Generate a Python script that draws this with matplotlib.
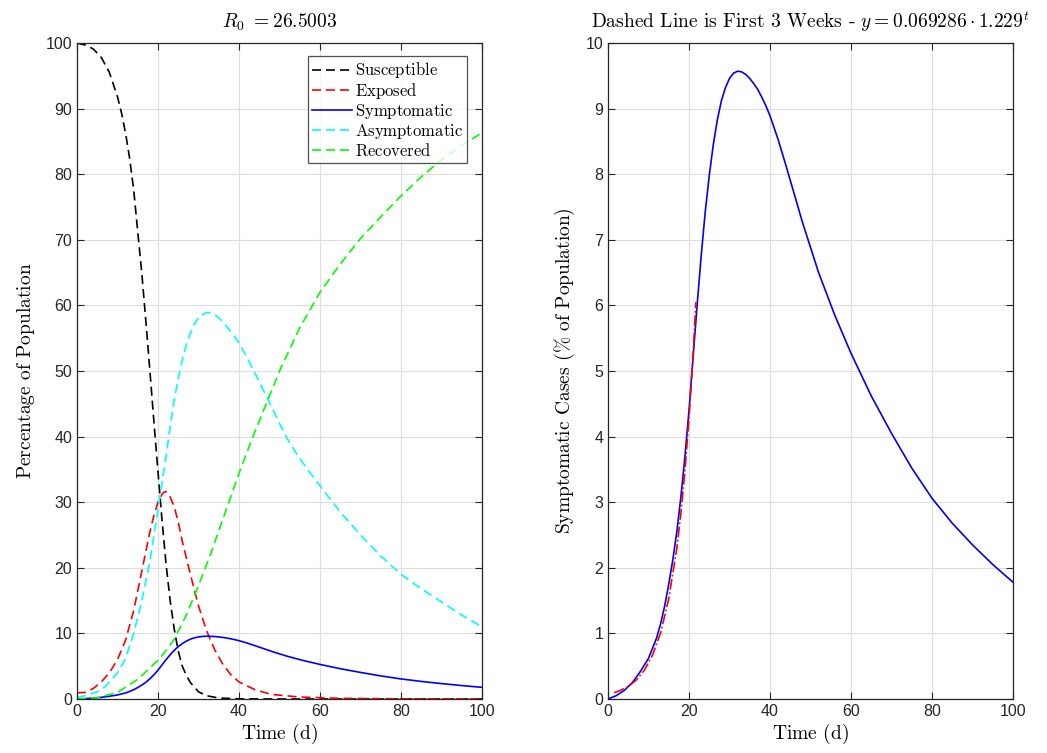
import matplotlib
matplotlib.use("Agg")
import matplotlib.pyplot as plt

# values
t_sus = [0, 2, 4, 6, 8, 10, 11, 12, 13, 14, 15, 16, 17, 18, 19, 20, 21, 22, 23, 24, 25, 26, 27, 28, 30, 32, 35, 40, 50, 100]
susceptible = [100, 99.7, 99.1, 97.8, 95.5, 91.8, 89.3, 86.2, 82.4, 77.6, 71.2, 64.9, 57.6, 50.0, 42.2, 34.6, 27.2, 20.5, 15.0, 10.7,
               7.3, 5.0, 3.6, 2.5, 1.1, 0.5, 0.15, 0.02, 0.0, 0.0]

t_exp = [0, 2, 4, 6, 8, 10, 12, 14, 16, 18, 19, 20, 21, 21.5, 22, 22.5, 23, 24, 25, 26, 28, 30, 32, 34, 36, 38, 40, 44, 48, 55,
         65, 80, 100]
exposed = [0.95, 1.0, 1.6, 2.6, 4.0, 6.0, 9.0, 13.5, 19.5, 25.5, 28.0, 30.0, 31.2, 31.55, 31.6, 31.3, 30.8, 29.3, 27.0, 24.0,
           19.0, 14.2, 10.4, 7.5, 5.3, 3.7, 2.6, 1.4, 0.7, 0.3, 0.1, 0.03, 0.01]

t_sym = [0, 2, 4, 6, 8, 10, 12, 13, 14, 15, 16, 17, 18, 19, 20, 21, 22, 23, 24, 25, 26, 27, 28, 29, 30, 31, 32, 33, 34, 35, 36,
         37, 38, 39, 40, 42, 44, 48, 52, 56, 60, 65, 70, 75, 80, 85, 90, 95, 100]
symptomatic = [0, 0.05, 0.13, 0.25, 0.42, 0.62, 0.93, 1.15, 1.42, 1.75, 2.12, 2.55, 3.08, 3.7, 4.4, 5.2, 6.0, 6.75, 7.42, 7.98,
               8.45, 8.83, 9.12, 9.32, 9.46, 9.54, 9.57, 9.56, 9.52, 9.46, 9.38, 9.29, 9.17, 9.04, 8.89, 8.53, 8.12, 7.27,
               6.5, 5.85, 5.27, 4.62, 4.05, 3.52, 3.06, 2.68, 2.35, 2.05, 1.78]

t_asy = [0, 2, 5, 7, 10, 12, 14, 16, 18, 19, 20, 21, 22, 23, 24, 25, 26, 27, 28, 29, 30, 31, 32, 33, 34, 35, 36, 38, 40, 42, 44,
         46, 48, 50, 52, 54, 56, 58, 60, 65, 70, 75, 80, 85, 90, 95, 100]
asymptomatic = [0.2, 0.5, 1.1, 1.9, 4.0, 6.2, 10.0, 15.0, 21.0, 25.0, 29.0, 33.0, 37.0, 41.5, 45.6, 48.9, 51.7, 54.0, 55.8,
                57.2, 58.1, 58.6, 58.9, 58.9, 58.6, 58.1, 57.5, 56.0, 54.3, 52.0, 49.6, 47.1, 44.6, 42.0, 39.6, 37.6, 35.8,
                34.1, 32.5, 28.5, 25.0, 21.8, 19.0, 16.8, 14.8, 12.8, 11.0]

t_rec = [0, 5, 10, 15, 20, 22, 24, 27, 30, 33, 36, 40, 43, 46, 50, 55, 60, 65, 70, 75, 80, 85, 90, 95, 100]
recovered = [0, 0.2, 1.0, 3.0, 5.9, 7.4, 9.1, 12.8, 17.3, 22.1, 27.4, 34.4, 39.3, 43.9, 50.0, 56.6, 62.0, 66.3, 70.2, 73.5,
             76.7, 79.6, 82.2, 84.4, 86.3]

# first three weeks fit (dash-dot line on the right)
t_fit = [1.5, 3, 5, 7, 9, 11, 13, 15, 17, 18, 19, 20, 21, 21.7]
fit_vals = [0.095, 0.13, 0.19, 0.29, 0.44, 0.67, 1.01, 1.53, 2.3, 2.83, 3.48, 4.27, 5.25, 6.05]

plt.rcParams["mathtext.fontset"] = "cm"
plt.rcParams["font.family"] = ["Liberation Sans", "DejaVu Sans"]

axis_col = "#262626"
lw = 1.2
dash = (0, (5.4, 3.0))  # longer MATLAB-like dashes

fig = plt.figure(figsize=(10.47, 7.53), dpi=100)
ax1 = fig.add_axes([77 / 1047, 54 / 753, 405 / 1047, 656 / 753])
ax2 = fig.add_axes([608 / 1047, 54 / 753, 405 / 1047, 656 / 753])


def style_axes(ax):
    ax.grid(True, color="#dedede", linewidth=0.8)
    ax.set_axisbelow(True)
    ax.tick_params(direction="in", length=5, width=0.8, top=True, right=True,
                   labelsize=11.5, colors=axis_col, labelcolor=axis_col)
    for s in ax.spines.values():
        s.set_color(axis_col)
        s.set_linewidth(0.9)


ax1.plot(t_sus, susceptible, linestyle=dash, color="black", lw=lw, label=r"$\text{Susceptible}$")
ax1.plot(t_exp, exposed, linestyle=dash, color="#ff0000", lw=lw, label=r"$\text{Exposed}$")
ax1.plot(t_sym, symptomatic, "-", color="#0000ff", lw=lw, label=r"$\text{Symptomatic}$")
ax1.plot(t_asy, asymptomatic, linestyle=dash, color="#00ffff", lw=lw, label=r"$\text{Asymptomatic}$")
ax1.plot(t_rec, recovered, linestyle=dash, color="#00ff00", lw=lw, label=r"$\text{Recovered}$")
ax1.set_xlim(0, 100)
ax1.set_ylim(0, 100)
ax1.set_xticks(range(0, 101, 20))
ax1.set_yticks(range(0, 101, 10))
style_axes(ax1)
ax1.set_title(r"$R_0\ {=}26.5003$", fontsize=14, pad=11)
ax1.set_xlabel(r"$\text{Time (d)}$", fontsize=14, labelpad=2)
ax1.set_ylabel(r"$\text{Percentage of Population}$", fontsize=14, labelpad=6)
leg = ax1.legend(loc="upper right", bbox_to_anchor=(0.972, 0.985), fontsize=12, frameon=True, fancybox=False,
                 handlelength=2.4, handletextpad=0.2, borderpad=0.25, labelspacing=0.05, borderaxespad=0.2)
leg.get_frame().set_edgecolor(axis_col)
leg.get_frame().set_linewidth(0.9)

ax2.plot(t_sym, symptomatic, "-", color="#0000ff", lw=lw)
ax2.plot(t_fit, fit_vals, "-.", color="#ff0000", lw=lw)
ax2.set_xlim(0, 100)
ax2.set_ylim(0, 10)
ax2.set_xticks(range(0, 101, 20))
ax2.set_yticks(range(0, 11, 1))
style_axes(ax2)
ax2.set_title(r"$\text{Dashed Line is First 3 Weeks - }y = 0.069286 \cdot 1.229^t$", fontsize=14, pad=11)
ax2.set_xlabel(r"$\text{Time (d)}$", fontsize=14, labelpad=2)
ax2.set_ylabel(r"$\text{Symptomatic Cases (\% of Population)}$", fontsize=14, labelpad=6)

fig.savefig("out.png", dpi=100)
